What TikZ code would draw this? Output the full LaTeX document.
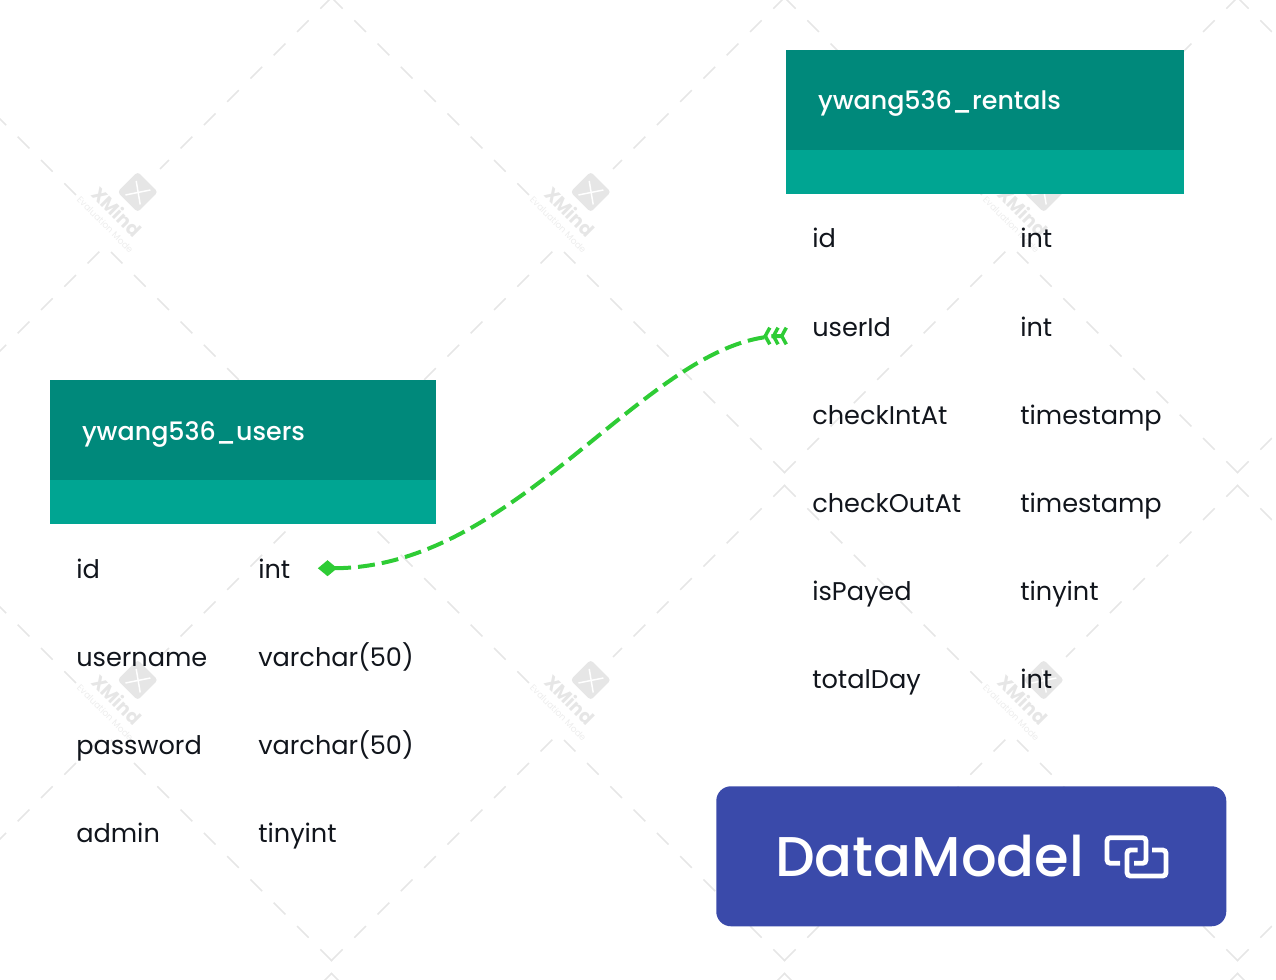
\documentclass[tikz,border=0pt]{standalone}
\usepackage{fontspec}
\setmainfont{Poppins}
\newfontfamily\mediumfont[UprightFont=* Medium]{Poppins}
\usetikzlibrary{positioning,arrows.meta}

\definecolor{headdark}{HTML}{00897B}
\definecolor{headlight}{HTML}{00A592}
\definecolor{fieldink}{HTML}{11151C}
\definecolor{linkgreen}{HTML}{2ECC35}
\definecolor{brandblue}{HTML}{3A4AAA}
\definecolor{wmgrey}{HTML}{E6E6E6}

\tikzset{
    headbar/.style={fill=headdark, text=white, inner xsep=24pt, inner ysep=0pt, outer sep=0pt, minimum height=75pt, text height=15pt, text depth=0pt, font=\fontsize{19pt}{24pt}\mediumfont, align=left},
    bandbar/.style={fill=headlight, inner sep=0pt, outer sep=0pt, minimum height=33pt},
    field/.style={text=fieldink, inner sep=0pt, font=\fontsize{19.2pt}{24pt}\selectfont},
    wmline/.style={draw=wmgrey, line width=1.1pt, dash pattern=on 12.4pt off 12.3pt},
    iconline/.style={draw=white, line width=3.6pt, rounded corners=2.5pt},
}

\begin{document}
\begin{tikzpicture}[x=0.75pt, y=-0.75pt]
    \useasboundingbox (0,0) rectangle (1276,980);

    % evaluation watermark
    \begin{scope}
        \clip (0,0) rectangle (1272,980);
        \foreach \tx in {-122,331,784,1237}
            \foreach \ty in {-3,485,973} {
                \draw[wmline] (\tx,\ty) -- ++(198,198);
                \draw[wmline] (\tx+454,\ty) -- ++(-172,172);
                \draw[wmline] (\tx,\ty+476) -- ++(222,-222);
                \draw[wmline] (\tx+454,\ty+476) -- ++(-221,-221);
            }
    \end{scope}
    \foreach \tx in {-122,331,784}
        \foreach \ty in {-3,485} {
            \node[fill=wmgrey, rounded corners=2.5pt, rotate=-45, minimum size=21.5pt, inner sep=0pt] (wmbox\tx\ty) at (\tx+259.7,\ty+195) {};
            \draw[white, line width=1.1pt] (\tx+258.2,\ty+184) -- (\tx+262.2,\ty+207.5);
            \draw[white, line width=1.1pt] (\tx+247.4,\ty+198) -- (\tx+272.4,\ty+193);
            \node[text=wmgrey, rotate=-45, inner sep=0pt, font=\fontsize{14pt}{15pt}\selectfont\bfseries] (wmname\tx\ty) at (\tx+239,\ty+214.5) {XMind};
            \node[text=wmgrey!70, rotate=-45, inner sep=0pt, font=\fontsize{6.8pt}{8pt}\selectfont] (wmmode\tx\ty) at (\tx+227.3,\ty+227.7) {Evaluation Mode};
        }

    % users table
    \node[headbar, text width=241.5pt, anchor=north west] (usershead) at (50,380) {ywang536\_users};
    \node[bandbar, minimum width=289.5pt, below=0pt of usershead] (usersband) {};
    \node[field, anchor=base west] (usersid) at (76,578) {id};
    \node[field, anchor=base west] (usersidtype) at (258,578) {int};
    \node[field, below=66pt of usersid.base west, anchor=base west] (username) {username};
    \node[field, below=66pt of usersidtype.base west, anchor=base west] (usernametype) {varchar(50)};
    \node[field, below=66pt of username.base west, anchor=base west] (password) {password};
    \node[field, below=66pt of usernametype.base west, anchor=base west] (passwordtype) {varchar(50)};
    \node[field, below=66pt of password.base west, anchor=base west] (admin) {admin};
    \node[field, below=66pt of passwordtype.base west, anchor=base west] (admintype) {tinyint};

    % rentals table
    \node[headbar, text width=250.5pt, anchor=north west] (rentalshead) at (786,50) {ywang536\_rentals};
    \node[bandbar, minimum width=298.5pt, below=0pt of rentalshead] (rentalsband) {};
    \node[field, anchor=base west] (rentalsid) at (812,248) {id};
    \node[field, anchor=base west] (rentalsidtype) at (1020,248) {int};
    \node[field, below=66pt of rentalsid.base west, anchor=base west] (userid) {userId};
    \node[field, below=66pt of rentalsidtype.base west, anchor=base west] (useridtype) {int};
    \node[field, below=66pt of userid.base west, anchor=base west] (checkin) {checkIntAt};
    \node[field, below=66pt of useridtype.base west, anchor=base west] (checkintype) {timestamp};
    \node[field, below=66pt of checkin.base west, anchor=base west] (checkout) {checkOutAt};
    \node[field, below=66pt of checkintype.base west, anchor=base west] (checkouttype) {timestamp};
    \node[field, below=66pt of checkout.base west, anchor=base west] (ispayed) {isPayed};
    \node[field, below=66pt of checkouttype.base west, anchor=base west] (ispayedtype) {tinyint};
    \node[field, below=66pt of ispayed.base west, anchor=base west] (totalday) {totalDay};
    \node[field, below=66pt of ispayedtype.base west, anchor=base west] (totaldaytype) {int};

    % relation between the two tables
    \draw[draw=linkgreen, line width=3pt, dash pattern=on 12.75pt off 5.25pt, shorten <=20.5pt, shorten >=18pt,
        {Diamond[length=14.5pt,width=12pt,fill=linkgreen]}-{Straight Barb[reversed,length=3.4pt,width=12.5pt,line width=2.6pt]Straight Barb[reversed,length=3.4pt,width=12.5pt,line width=2.6pt]Straight Barb[reversed,length=3.4pt,width=12.5pt,line width=2.6pt]}]
        (usersidtype.east) .. controls (520,568) and (650,336) .. (userid.base west);

    % product badge
    \node[fill=brandblue, rounded corners=11pt, minimum width=382.5pt, minimum height=105pt, inner sep=0pt, anchor=north west] (badge) at (716,786) {};
    \node[text=white, inner sep=0pt, anchor=base west, font=\fontsize{42pt}{50pt}\mediumfont] (badgetext) at (775,876) {DataModel};
    \draw[iconline] (1120,863.3) -- (1107,863.3) -- (1107,837.7) -- (1146,837.7) -- (1146,863.3) -- (1134,863.3);
    \draw[iconline] (1152,850) -- (1166,850) -- (1166,876) -- (1127,876) -- (1127,850) -- (1137.5,850);
\end{tikzpicture}
\end{document}
